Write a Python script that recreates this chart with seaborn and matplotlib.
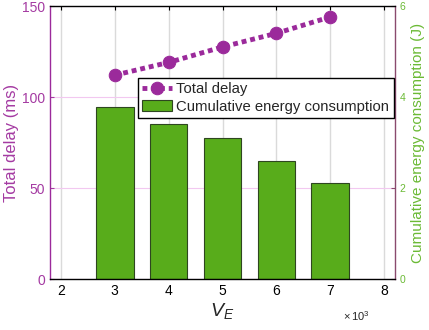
import matplotlib as mpl
mpl.use('Agg')
import matplotlib.pyplot as plt
import numpy as np
import pandas as pd
import seaborn as sns

sns.set_style("white")
mpl.rcParams['font.family'] = ['Liberation Sans', 'DejaVu Sans']
mpl.rcParams['mathtext.fontset'] = 'custom'
mpl.rcParams['mathtext.rm'] = 'Liberation Sans'
mpl.rcParams['mathtext.it'] = 'Liberation Sans:italic'

# V_E in units of 10^3
ve = [3, 4, 5, 6, 7]
delay = [112, 119, 127.5, 135, 144]        # ms
energy = [3.79, 3.40, 3.10, 2.59, 2.10]    # J

purple = '#9B2A9B'
purple_txt = '#A43AA2'
green = '#58AC1B'
green_txt = '#6BBA35'

df = pd.DataFrame({"ve": ve, "delay": delay, "energy": energy})

fig = plt.figure(figsize=(4.29, 3.30), dpi=100)
ax = fig.add_axes([0.1166, 0.1545, 0.8041, 0.8273])
ax2 = ax.twinx()

# bars on the right axis (drawn underneath)
sns.barplot(data=df, x="ve", y="energy", ax=ax2, native_scale=True, width=0.7,
            color=green, edgecolor='#2E4620', linewidth=0.8, saturation=1,
            label="Cumulative energy consumption")
ax2.set_ylim(0, 6)
ax2.set_yticks([0, 2, 4, 6])
ax2.xaxis.set_visible(True)
ax2.tick_params(axis='x', bottom=False, top=False, labelbottom=False, labeltop=False)
ax2.set_xlabel("")
ax2.set_axisbelow(True)
ax2.grid(axis='x', color='#DADADA', linewidth=1)
ax2.grid(axis='y', color='#F2C8F0', linewidth=0.8)
ax2.set_ylabel("Cumulative energy consumption (J)", color=green_txt, fontsize=11,
               labelpad=4)
ax2.tick_params(axis='y', colors=green_txt, labelsize=7.5, direction='in', length=3,
                color='#8A4A6E')

# line on the left axis (drawn on top)
ax.set_zorder(ax2.get_zorder() + 1)
ax.patch.set_visible(False)
sns.lineplot(data=df, x="ve", y="delay", ax=ax, color=purple, linewidth=3.5,
             linestyle=(0, (1, 0.8)), marker='o', markersize=9,
             markeredgecolor=purple, label="Total delay")
ax.set_ylim(0, 150)
ax.set_yticks([0, 50, 100, 150])
ax.set_xlim(1.8, 8.2)
ax.set_xticks([2, 3, 4, 5, 6, 7, 8])
ax.set_xticklabels([str(v) for v in [2, 3, 4, 5, 6, 7, 8]])
ax.set_ylabel("Total delay (ms)", color=purple_txt, fontsize=12, labelpad=2)
ax.set_xlabel("$V_E$", fontsize=14, labelpad=2)
ax.tick_params(axis='y', colors=purple_txt, labelsize=10, direction='in', length=3)
ax.tick_params(axis='x', colors='black', labelsize=10, direction='in', length=3,
               top=True)

for s in ['top', 'bottom']:
    ax.spines[s].set_color('black')
    ax.spines[s].set_linewidth(1)
ax.spines['left'].set_color(purple)
ax.spines['left'].set_linewidth(1)
ax2.spines['right'].set_color('#8A4A6E')
ax2.spines['right'].set_linewidth(1)
for s in ['top', 'bottom', 'left']:
    ax2.spines[s].set_visible(False)
ax.spines['right'].set_visible(False)

h1, l1 = ax.get_legend_handles_labels()
h2, l2 = ax2.get_legend_handles_labels()
if ax2.get_legend():
    ax2.get_legend().remove()
leg = ax.legend(h1 + h2, l1 + l2, loc='upper right', bbox_to_anchor=(0.997, 0.738),
                fontsize=10.75, frameon=True, fancybox=False, framealpha=1,
                edgecolor='black', borderpad=0.3, handlelength=2.0,
                handletextpad=0.3, labelspacing=0.25, borderaxespad=0)
leg.get_frame().set_linewidth(1)

fig.text(343 / 429, 1 - 316 / 330, r'$\times\,10^{3}$', fontsize=8, va='center')

fig.savefig('out.png', dpi=100)
